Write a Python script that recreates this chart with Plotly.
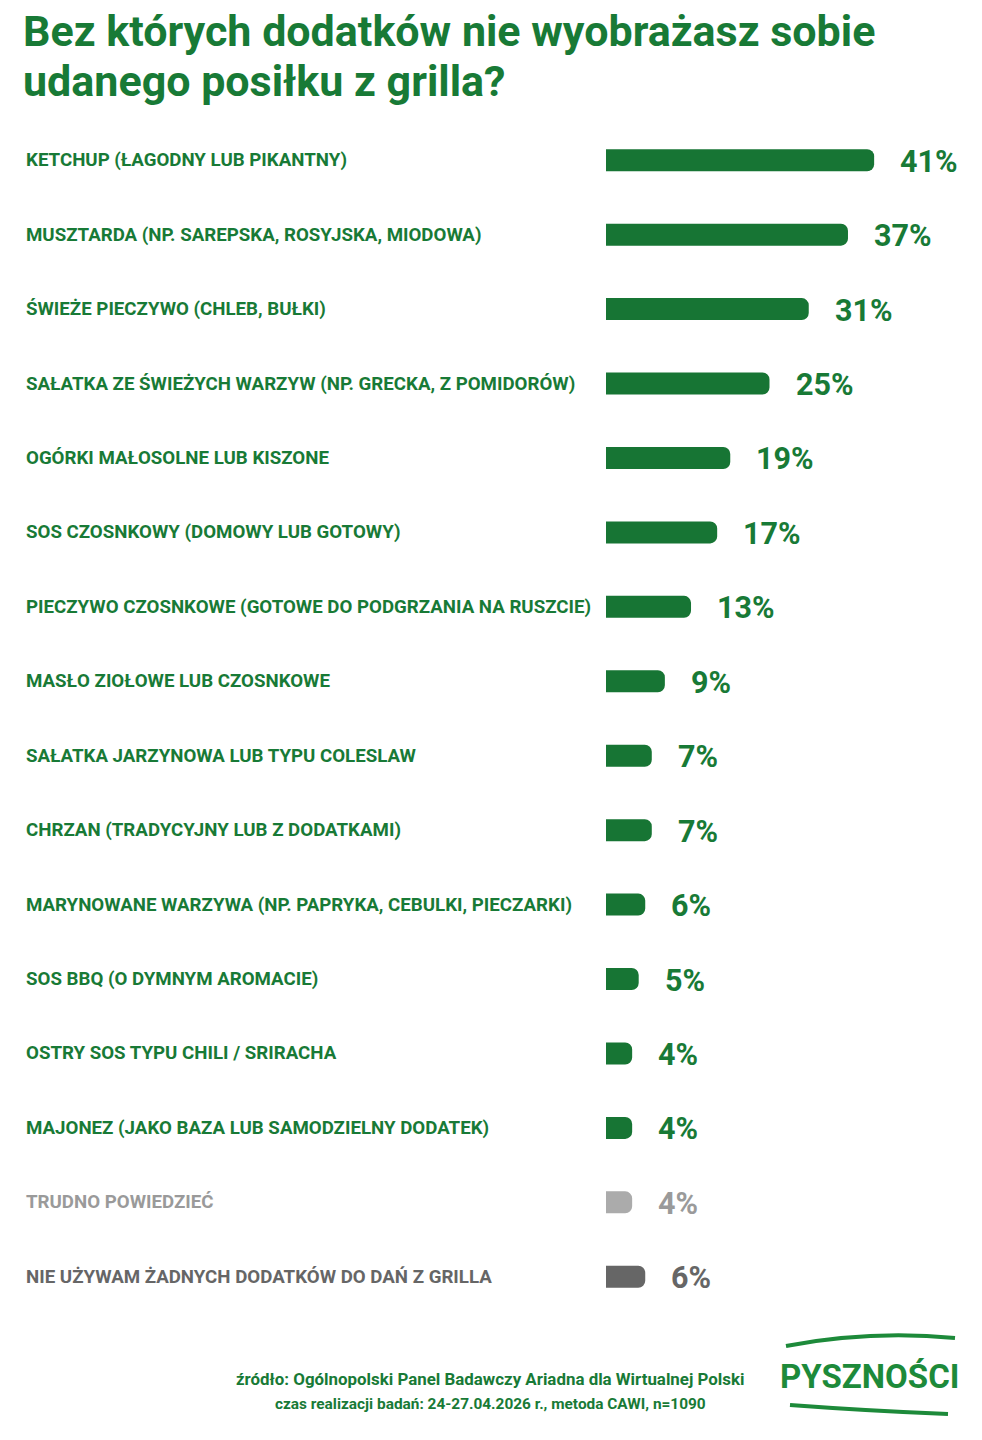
import plotly.graph_objects as go

categories = [
    "KETCHUP (ŁAGODNY LUB PIKANTNY)",
    "MUSZTARDA (NP. SAREPSKA, ROSYJSKA, MIODOWA)",
    "ŚWIEŻE PIECZYWO (CHLEB, BUŁKI)",
    "SAŁATKA ZE ŚWIEŻYCH WARZYW (NP. GRECKA, Z POMIDORÓW)",
    "OGÓRKI MAŁOSOLNE LUB KISZONE",
    "SOS CZOSNKOWY (DOMOWY LUB GOTOWY)",
    "PIECZYWO CZOSNKOWE (GOTOWE DO PODGRZANIA NA RUSZCIE)",
    "MASŁO ZIOŁOWE LUB CZOSNKOWE",
    "SAŁATKA JARZYNOWA LUB TYPU COLESLAW",
    "CHRZAN (TRADYCYJNY LUB Z DODATKAMI)",
    "MARYNOWANE WARZYWA (NP. PAPRYKA, CEBULKI, PIECZARKI)",
    "SOS BBQ (O DYMNYM AROMACIE)",
    "OSTRY SOS TYPU CHILI / SRIRACHA",
    "MAJONEZ (JAKO BAZA LUB SAMODZIELNY DODATEK)",
    "TRUDNO POWIEDZIEĆ",
    "NIE UŻYWAM ŻADNYCH DODATKÓW DO DAŃ Z GRILLA",
]
values = [41, 37, 31, 25, 19, 17, 13, 9, 7, 7, 6, 5, 4, 4, 4, 6]

GREEN = "#187a36"
BAR_GREEN = "#177534"
bar_colors = [BAR_GREEN] * 14 + ["#ababab", "#666666"]
text_colors = [GREEN] * 14 + ["#9a9a9a", "#666666"]

title_lines = ["Bez których dodatków nie wyobrażasz sobie", "udanego posiłku z grilla?"]
footer1 = "źródło: Ogólnopolski Panel Badawczy Ariadna dla Wirtualnej Polski"
footer2 = "czas realizacji badań: 24-27.04.2026 r., metoda CAWI, n=1090"
logo = "PYSZNOŚCI"

OFF = 8                    # page body margin
W, H = 982 - OFF, 1440 - OFF
X0 = 606 - OFF             # pixel where 0% sits
PX_PER = 6.54              # pixels per percentage point
TOP, BOT = 123 - OFF, 1314 - OFF

ypos = list(range(len(categories)))

fig = go.Figure()
fig.add_trace(go.Bar(
    x=values, y=ypos, orientation="h",
    marker=dict(color=bar_colors, line=dict(width=0), cornerradius=7),
    width=0.295, hoverinfo="skip",
))

def px_(x):
    return (x - OFF) / W

def py(y):
    return (BOT - (y - OFF)) / (BOT - TOP)

ann = []
for i, (c, v) in enumerate(zip(categories, values)):
    ann.append(dict(x=px_(24), xref="paper", y=i, yref="y", text=f"<b>{c}</b>",
                    showarrow=False, xanchor="left", yanchor="middle",
                    font=dict(family="Roboto", size=18.7, color=text_colors[i])))
    ann.append(dict(x=v, xref="x", y=i, yref="y", text=f"<b>{v}%</b>",
                    showarrow=False, xanchor="left", yanchor="middle", xshift=24, yshift=-1,
                    font=dict(family="Roboto", size=30.5, color=text_colors[i])))

for line, yc in zip(title_lines, [31, 81]):
    ann.append(dict(x=px_(22), xref="paper", y=py(yc), yref="paper", text=f"<b>{line}</b>",
                    showarrow=False, xanchor="left", yanchor="middle", align="left",
                    borderpad=0,
                    font=dict(family="Roboto", size=43, color=GREEN)))
ann.append(dict(x=px_(490), xref="paper", y=py(1379), yref="paper", text=f"<b>{footer1}</b>",
                showarrow=False, xanchor="center", yanchor="middle",
                font=dict(family="Roboto", size=16.9, color=GREEN)))
ann.append(dict(x=px_(490), xref="paper", y=py(1404), yref="paper", text=f"<b>{footer2}</b>",
                showarrow=False, xanchor="center", yanchor="middle",
                font=dict(family="Roboto", size=15.4, color=GREEN)))
ann.append(dict(x=px_(869), xref="paper", y=py(1376), yref="paper", text=f"<b>{logo}</b>",
                showarrow=False, xanchor="center", yanchor="middle",
                font=dict(family="Roboto", size=33, color="#1d8a3a")))

LOGO = "#1d8a3a"
shapes = [
    dict(type="path", xref="paper", yref="paper",
         path=f"M {px_(786)} {py(1346)} Q {px_(870)} {py(1330)} {px_(955)} {py(1338)}",
         line=dict(color=LOGO, width=4)),
    dict(type="path", xref="paper", yref="paper",
         path=f"M {px_(790)} {py(1405)} Q {px_(870)} {py(1411)} {px_(948)} {py(1414)}",
         line=dict(color=LOGO, width=4)),
]

fig.update_layout(
    width=W, height=H,
    margin=dict(l=0, r=0, t=TOP, b=H - BOT),
    paper_bgcolor="white", plot_bgcolor="white",
    showlegend=False,
    xaxis=dict(domain=[X0 / W, 1], range=[0, (W - X0) / PX_PER], visible=False, fixedrange=True),
    yaxis=dict(range=[len(categories) - 0.5, -0.5], visible=False, fixedrange=True),
    annotations=ann, shapes=shapes,
)

fig.write_html("out.html")
